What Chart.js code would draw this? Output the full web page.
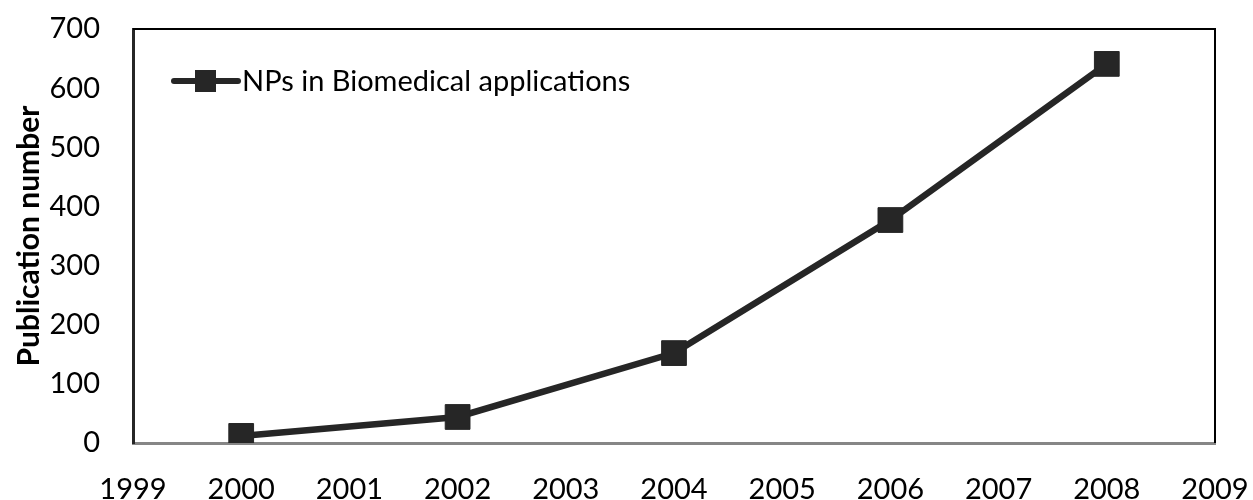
<!DOCTYPE html>
<html>
<head>
<meta charset="utf-8">
<script src="https://cdn.jsdelivr.net/npm/chart.js@4.4.1/dist/chart.umd.min.js"></script>
<style>
html,body{margin:0;padding:0;background:#fff;}
#wrap{width:1253px;height:500px;position:relative;}
</style>
</head>
<body>
<div id="wrap"><canvas id="c" width="1253" height="500"></canvas></div>
<script>
const years = [2000, 2002, 2004, 2006, 2008];
const publications = [12, 44, 152, 377, 641];
const seriesName = 'NPs in Biomedical applications';
const yTitle = 'Publication number';

const lineColor = '#262626';

const framePlugin = {
  id: 'frame',
  afterDraw(chart) {
    const {ctx, chartArea: a} = chart;
    ctx.save();
    ctx.strokeStyle = '#000';
    ctx.lineWidth = 2;
    ctx.beginPath();
    ctx.moveTo(a.left, a.top);
    ctx.lineTo(a.right, a.top);
    ctx.lineTo(a.right, a.bottom);
    ctx.stroke();
    const ly = 81;
    ctx.strokeStyle = lineColor;
    ctx.lineWidth = 6;
    ctx.lineCap = 'round';
    ctx.beginPath();
    ctx.moveTo(174, ly);
    ctx.lineTo(238, ly);
    ctx.stroke();
    ctx.fillStyle = lineColor;
    ctx.fillRect(195, ly - 11, 21, 22);
    ctx.fillStyle = '#000';
    ctx.font = '29px Lato';
    ctx.textBaseline = 'middle';
    ctx.textAlign = 'left';
    ctx.fillText(seriesName, 242, ly + 1);
    ctx.restore();
  }
};

function noOverhang(s) {
  s.paddingTop = 0; s.paddingBottom = 0; s.paddingLeft = 0; s.paddingRight = 0;
}

new Chart(document.getElementById('c'), {
  type: 'line',
  data: {
    datasets: [{
      label: seriesName,
      data: years.map((y, i) => ({x: y, y: publications[i]})),
      borderColor: lineColor,
      backgroundColor: lineColor,
      borderWidth: 6.5,
      pointStyle: 'rect',
      pointRadius: 17.5,
      pointHoverRadius: 17.5,
      pointBorderWidth: 1,
      pointBorderColor: lineColor,
      pointBackgroundColor: lineColor,
      tension: 0
    }]
  },
  options: {
    responsive: false,
    animation: false,
    layout: {autoPadding: false, padding: {left: 0, right: 38, top: 29, bottom: 0}},
    plugins: {legend: {display: false}, tooltip: {enabled: false}},
    scales: {
      x: {
        type: 'linear',
        min: 1999, max: 2009,
        grid: {display: false, drawTicks: false},
        border: {display: true, color: '#868686', width: 3},
        ticks: {
          stepSize: 1,
          color: '#000',
          font: {family: 'Lato', size: 29},
          padding: 29,
          maxRotation: 0,
          autoSkip: false,
          callback: v => String(v)
        },
        afterFit(s) { s.height = 57; noOverhang(s); }
      },
      y: {
        min: 0, max: 700,
        grid: {display: false, drawTicks: false},
        border: {display: true, color: lineColor, width: 3},
        ticks: {
          stepSize: 100,
          color: '#000',
          font: {family: 'Lato', size: 29},
          padding: 33
        },
        title: {
          display: true,
          text: yTitle,
          color: '#000',
          font: {family: 'Lato', size: 30, weight: 'bold'},
          padding: {top: 11, bottom: 0}
        },
        afterFit(s) { s.width = 133; noOverhang(s); }
      }
    }
  },
  plugins: [framePlugin]
});
</script>
</body>
</html>
